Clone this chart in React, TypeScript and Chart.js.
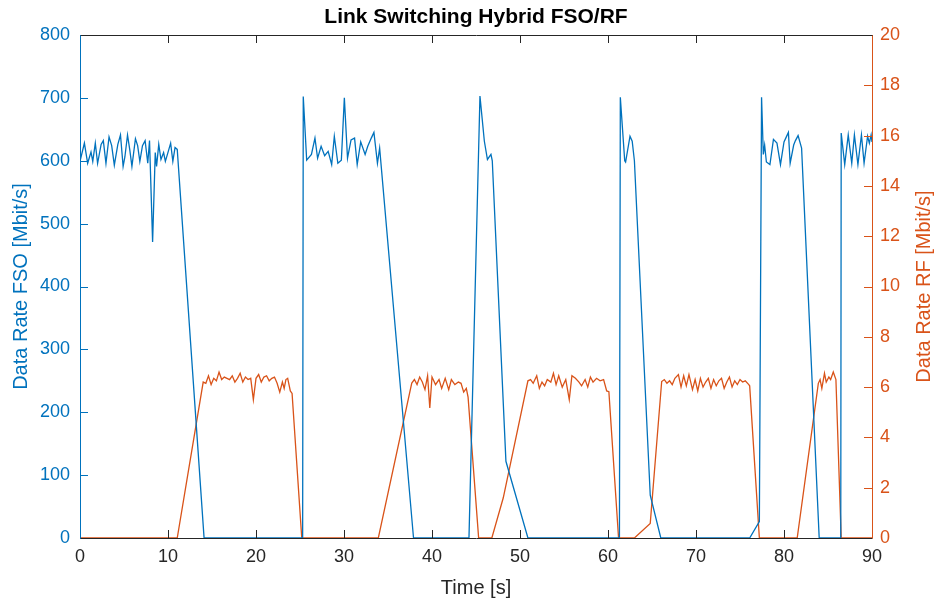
import React, { useEffect, useRef } from "react";
import { Chart, registerables } from "chart.js";

Chart.register(...registerables);

// ---- Data ----
const xTicks = [0, 10, 20, 30, 40, 50, 60, 70, 80, 90];
const fsoTicks = [0, 100, 200, 300, 400, 500, 600, 700, 800];
const rfTicks = [0, 2, 4, 6, 8, 10, 12, 14, 16, 18, 20];

const fsoTime = [
  0, 0.5, 0.87, 1.25, 1.45, 1.74, 2.0, 2.4, 2.65, 2.95, 3.3, 3.6, 3.9, 4.3, 4.6, 4.9, 5.1, 5.4, 5.65, 5.9,
  6.3, 6.55, 6.8, 7.1, 7.4, 7.7, 7.9, 8.25, 8.55, 8.7, 8.95, 9.2, 9.5, 9.7, 9.95, 10.3, 10.55, 10.8, 11.05, 14.1,
  25.3, 25.37, 25.76, 26.3, 26.7, 27.0, 27.4, 27.8, 28.2, 28.6, 28.9, 29.3, 29.7, 30.04, 30.4, 30.8, 31.2, 31.5,
  31.9, 32.4, 32.7, 33.1, 33.4, 33.8, 34.05, 37.9,
  44.2, 45.45, 45.95, 46.3, 46.7, 46.85, 48.4, 50.9,
  61.3, 61.4, 61.9, 62.0, 62.5, 62.75, 63.0, 64.8, 66.0,
  76.1, 77.2, 77.45, 77.65, 77.8, 78.0, 78.4, 78.8, 79.2, 79.6, 80.0, 80.2, 80.5, 80.7, 81.1, 81.3, 81.6, 82.0, 84.0,
  86.45, 86.5, 86.9, 87.3, 87.7, 88.0, 88.4, 88.8, 89.1, 89.5, 89.7, 89.9, 90,
];
const fsoRate = [
  599, 628, 596, 614, 599, 628, 596, 626, 632, 596, 638, 624, 593, 626, 641, 591, 606, 641, 618, 591,
  635, 624, 599, 624, 632, 596, 632, 471, 613, 591, 626, 602, 613, 599, 611, 628, 599, 621, 618, 0,
  0, 702, 601, 610, 636, 604, 623, 608, 615, 594, 639, 596, 601, 700, 604, 633, 636, 594,
  630, 610, 623, 636, 645, 596, 620, 0,
  0, 703, 631, 602, 610, 600, 122, 0,
  0, 701, 600, 598, 639, 631, 600, 68, 0,
  0, 26, 701, 610, 625, 598, 594, 634, 628, 594, 630, 636, 645, 596, 625, 632, 640, 620, 0,
  0, 644, 594, 641, 596, 641, 594, 641, 596, 639, 628, 641, 630,
];

const rfTime = [
  0, 11.05, 14.0, 14.3, 14.6, 14.9, 15.2, 15.5, 15.8, 16.1, 16.4, 16.7, 17.0, 17.3, 17.6, 17.9, 18.2, 18.5, 18.8,
  19.1, 19.4, 19.7, 20.0, 20.3, 20.6, 20.9, 21.2, 21.5, 21.8, 22.1, 22.4, 22.7, 23.0, 23.2, 23.4, 23.6, 23.9, 24.1, 25.2,
  33.9, 37.7, 38.0, 38.3, 38.6, 38.9, 39.2, 39.5, 39.75, 40.0, 40.4, 40.8, 41.1, 41.5, 41.9, 42.2, 42.6, 43.0, 43.3,
  43.6, 43.9, 44.1, 45.3,
  46.8, 48.1, 50.9, 51.2, 51.5, 51.9, 52.2, 52.5, 52.8, 53.1, 53.5, 53.8, 54.1, 54.4, 54.8, 55.2, 55.6, 55.9, 56.3,
  56.7, 57.0, 57.4, 57.7, 58.0, 58.3, 58.7, 59.1, 59.5, 59.85, 60.1, 61.2,
  63.0, 64.8, 66.1, 66.4, 66.7, 67.0, 67.3, 67.6, 68.0, 68.3, 68.6, 68.9, 69.2, 69.6, 69.9, 70.2, 70.5, 70.8, 71.1,
  71.4, 71.7, 72.0, 72.3, 72.6, 72.9, 73.2, 73.5, 73.8, 74.1, 74.4, 74.7, 75.0, 75.3, 75.6, 76.0, 76.1, 77.2,
  81.5, 83.9, 84.1, 84.3, 84.6, 84.8, 85.1, 85.3, 85.6, 85.9, 86.5, 90,
];
const rfRate = [
  0, 0, 6.2, 6.15, 6.45, 6.1, 6.35, 6.25, 6.6, 6.3, 6.4, 6.35, 6.3, 6.45, 6.2, 6.35, 6.55, 6.2, 6.4,
  6.3, 6.35, 5.5, 6.35, 6.5, 6.2, 6.4, 6.45, 6.25, 6.35, 6.4, 6.15, 5.8, 6.2, 5.95, 6.3, 6.35, 5.85, 5.75, 0,
  0, 6.16, 6.3, 6.1, 6.4, 6.2, 5.9, 6.45, 5.17, 6.4, 6.1, 6.3, 5.95, 6.35, 5.9, 6.3, 6.1, 6.2, 6.15,
  5.8, 5.95, 5.6, 0,
  0, 1.6, 6.25, 6.3, 6.15, 6.45, 5.95, 6.2, 6.05, 6.3, 6.2, 6.55, 6.1, 6.45, 6.0, 6.3, 5.5, 6.45, 6.35,
  6.2, 6.05, 6.3, 6.0, 6.4, 6.2, 6.35, 6.25, 6.3, 5.85, 5.82, 0,
  0, 0.58, 6.22, 6.3, 6.15, 6.25, 6.1, 6.35, 6.5, 6.0, 6.45, 6.05, 6.5, 5.9, 6.3, 5.85, 6.35, 6.0, 6.2,
  6.35, 5.95, 6.3, 6.05, 6.25, 6.35, 5.95, 6.2, 6.4, 6.0, 6.25, 6.1, 6.3, 6.2, 6.25, 6.1, 6.05, 0,
  0, 6.15, 6.3, 5.95, 6.55, 6.2, 6.4, 6.3, 6.6, 6.3, 0, 0,
];

const BLUE = "#0072BD";
const ORANGE = "#D95319";
const AXIS = "#262626";
const FONT = "'Liberation Sans', Arial, sans-serif";

const frame = {
  id: "matlabFrame",
  afterDraw(chart: any) {
    const { ctx, chartArea } = chart;
    const { left, right, top, bottom } = chartArea;
    const sx = chart.scales.x;
    const sy = chart.scales.y;
    const sy1 = chart.scales.y1;
    ctx.save();
    ctx.lineWidth = 1;
    // ticks
    ctx.strokeStyle = AXIS;
    xTicks.forEach((v) => {
      const px = Math.round(sx.getPixelForValue(v)) + 0.5;
      ctx.beginPath();
      ctx.moveTo(px, bottom);
      ctx.lineTo(px, bottom - 8);
      ctx.moveTo(px, top);
      ctx.lineTo(px, top + 8);
      ctx.stroke();
    });
    ctx.strokeStyle = BLUE;
    fsoTicks.forEach((v) => {
      const py = Math.round(sy.getPixelForValue(v)) + 0.5;
      ctx.beginPath();
      ctx.moveTo(left, py);
      ctx.lineTo(left + 8, py);
      ctx.stroke();
    });
    ctx.strokeStyle = ORANGE;
    rfTicks.forEach((v) => {
      const py = Math.round(sy1.getPixelForValue(v)) + 0.5;
      ctx.beginPath();
      ctx.moveTo(right, py);
      ctx.lineTo(right - 8, py);
      ctx.stroke();
    });
    // box
    const l = Math.round(left) + 0.5;
    const r = Math.round(right) + 0.5;
    const t = Math.round(top) + 0.5;
    const b = Math.round(bottom) + 0.5;
    ctx.strokeStyle = AXIS;
    ctx.beginPath();
    ctx.moveTo(l, t);
    ctx.lineTo(r, t);
    ctx.moveTo(l, b);
    ctx.lineTo(r, b);
    ctx.stroke();
    ctx.strokeStyle = BLUE;
    ctx.beginPath();
    ctx.moveTo(l, t);
    ctx.lineTo(l, b);
    ctx.stroke();
    ctx.strokeStyle = ORANGE;
    ctx.beginPath();
    ctx.moveTo(r, t);
    ctx.lineTo(r, b);
    ctx.stroke();
    // titles
    const cx = (left + right) / 2;
    const cy = (top + bottom) / 2;
    ctx.textAlign = "center";
    ctx.textBaseline = "middle";
    ctx.fillStyle = "#000";
    ctx.font = `bold 21px ${FONT}`;
    ctx.fillText("Link Switching Hybrid FSO/RF", cx, 17);
    ctx.fillStyle = AXIS;
    ctx.font = `20px ${FONT}`;
    ctx.fillText("Time [s]", cx, 588);
    ctx.save();
    ctx.translate(21, cy);
    ctx.rotate(-Math.PI / 2);
    ctx.fillStyle = BLUE;
    ctx.fillText("Data Rate FSO [Mbit/s]", 0, 0);
    ctx.restore();
    ctx.save();
    ctx.translate(924, cy);
    ctx.rotate(-Math.PI / 2);
    ctx.fillStyle = ORANGE;
    ctx.fillText("Data Rate RF [Mbit/s]", 0, 0);
    ctx.restore();
    ctx.restore();
  },
};

export default function App() {
  const ref = useRef<HTMLCanvasElement | null>(null);
  useEffect(() => {
    document.body.style.margin = "0";
    const canvas = ref.current;
    if (!canvas) return;
    const fsoData = fsoTime.map((t, i) => ({ x: t, y: fsoRate[i] }));
    const rfData = rfTime.map((t, i) => ({ x: t, y: rfRate[i] }));
    const chart = new Chart(canvas, {
      type: "line",
      data: {
        datasets: [
          {
            label: "FSO",
            data: fsoData,
            yAxisID: "y",
            borderColor: BLUE,
            borderWidth: 1.3,
            pointRadius: 0,
            tension: 0,
            fill: false,
          },
          {
            label: "RF",
            data: rfData,
            yAxisID: "y1",
            borderColor: ORANGE,
            borderWidth: 1.3,
            pointRadius: 0,
            tension: 0,
            fill: false,
          },
        ],
      },
      options: {
        animation: false,
        responsive: false,
        devicePixelRatio: 1,
        layout: { padding: { top: 35, left: 0, right: 0, bottom: 0 } },
        plugins: {
          legend: { display: false },
          title: { display: false },
          tooltip: { enabled: false },
        },
        scales: {
          x: {
            type: "linear",
            min: 0,
            max: 90,
            grid: { display: false, drawTicks: false },
            border: { display: false },
            ticks: {
              stepSize: 10,
              padding: 8,
              color: AXIS,
              font: { family: FONT, size: 18 },
              maxRotation: 0,
            },
            afterFit: (s: any) => {
              s.height = 64;
            },
          },
          y: {
            position: "left",
            min: 0,
            max: 800,
            grid: { display: false, drawTicks: false },
            border: { display: false },
            ticks: {
              stepSize: 100,
              padding: 10,
              color: BLUE,
              font: { family: FONT, size: 18 },
            },
            afterFit: (s: any) => {
              s.width = 80;
            },
          },
          y1: {
            position: "right",
            min: 0,
            max: 20,
            grid: { display: false, drawTicks: false },
            border: { display: false },
            ticks: {
              stepSize: 2,
              padding: 8,
              color: ORANGE,
              font: { family: FONT, size: 18 },
            },
            afterFit: (s: any) => {
              s.width = 64;
            },
          },
        },
      },
      plugins: [frame],
    });
    return () => chart.destroy();
  }, []);
  return (
    <div style={{ width: 936, height: 602, background: "#fff" }}>
      <canvas ref={ref} width={936} height={602} />
    </div>
  );
}
